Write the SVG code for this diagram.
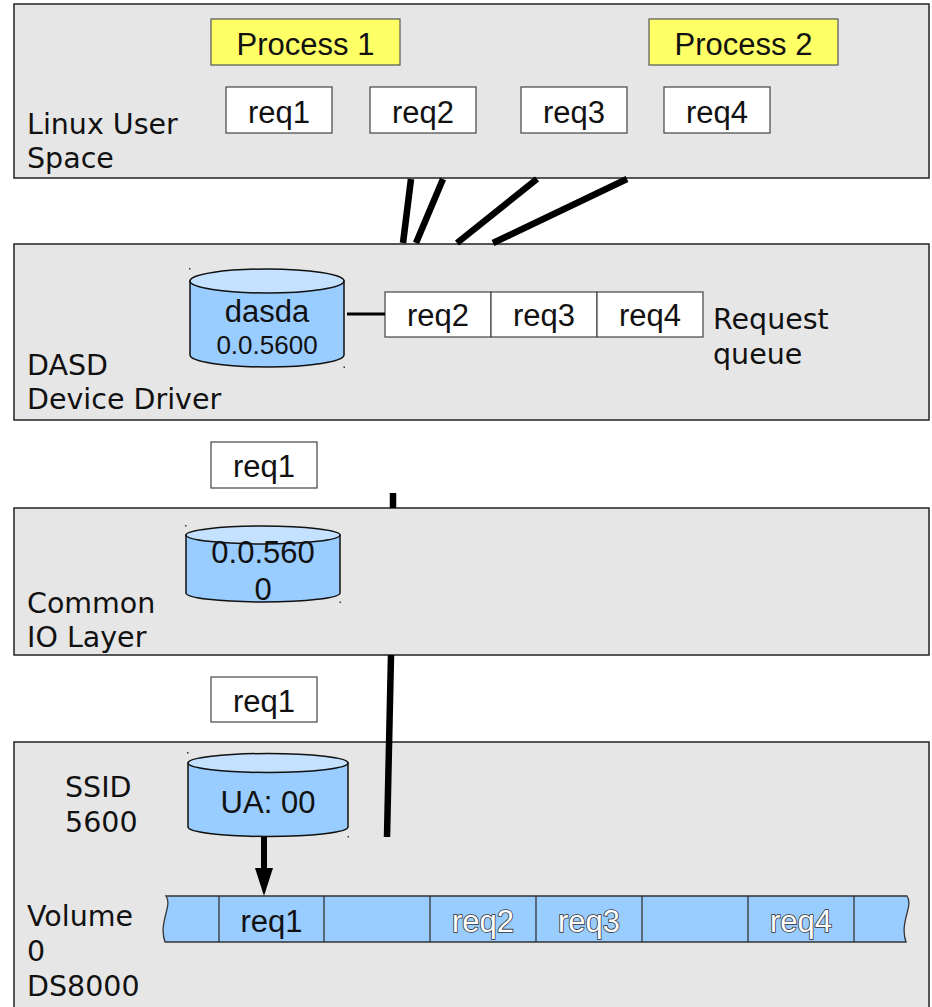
<svg xmlns="http://www.w3.org/2000/svg" width="932" height="1007" viewBox="0 0 932 1007">
<style>
.layer{fill:#e6e6e6;stroke:#222;stroke-width:1.5}
.box{fill:#fff;stroke:#444;stroke-width:1.2}
.proc{fill:#ffff66;stroke:#555;stroke-width:1.2}
.cyl{fill:#99ccff;stroke:#111;stroke-width:1.5}
.cyltop{fill:#c4e1ff;stroke:#111;stroke-width:1.5}
.lbl{font-family:"DejaVu Sans",sans-serif;font-size:28.5px;fill:#111}
.t{font-family:"Liberation Sans",Arial,sans-serif;font-size:31px;fill:#111;text-anchor:middle}
.ts{font-family:"Liberation Sans",Arial,sans-serif;font-size:26px;fill:#111;text-anchor:middle}
.ot{font-family:"Liberation Sans",Arial,sans-serif;font-size:31px;fill:#fff;stroke:#333;stroke-width:1.6;paint-order:stroke;text-anchor:middle}
.conn{stroke:#000;stroke-width:6.5;fill:none}
.dot{fill:#333}
</style>

<g id="layer-user">
<rect class="layer" x="14" y="4" width="915" height="174"/>
<text class="lbl" x="27" y="134">Linux User</text>
<text class="lbl" x="27" y="168">Space</text>
</g>
<g id="process1"><rect class="proc" x="211" y="19" width="189" height="46"/><text class="t" x="305.5" y="55">Process 1</text></g>
<g id="process2"><rect class="proc" x="649" y="19" width="189" height="46"/><text class="t" x="743.5" y="55">Process 2</text></g>
<g id="u-req1"><rect class="box" x="226" y="87" width="106" height="46"/><text class="t" x="279" y="123">req1</text></g>
<g id="u-req2"><rect class="box" x="370" y="87" width="106" height="46"/><text class="t" x="423" y="123">req2</text></g>
<g id="u-req3"><rect class="box" x="521" y="87" width="106" height="46"/><text class="t" x="574" y="123">req3</text></g>
<g id="u-req4"><rect class="box" x="664" y="87" width="106" height="46"/><text class="t" x="717" y="123">req4</text></g>

<g id="layer-dasd">
<rect class="layer" x="14" y="244" width="915" height="176"/>
<text class="lbl" x="27" y="375">DASD</text>
<text class="lbl" x="27" y="409">Device Driver</text>
</g>
<g id="cyl-dasda">
<path class="cyl" d="M190,281 L190,355 A77,12 0 0 0 344,355 L344,281 Z"/>
<ellipse class="cyltop" cx="267" cy="281" rx="77" ry="12"/>
<rect class="dot" x="189" y="268" width="1.5" height="1.5"/><rect class="dot" x="343.5" y="366.5" width="1.5" height="1.5"/>
<text class="t" x="267" y="322">dasda</text>
<text class="ts" x="267" y="354">0.0.5600</text>
</g>
<g id="queue">
<rect class="box" x="385" y="292" width="106" height="45"/><text class="t" x="438" y="326">req2</text>
<rect class="box" x="491" y="292" width="106" height="45"/><text class="t" x="544" y="326">req3</text>
<rect class="box" x="597" y="292" width="106" height="45"/><text class="t" x="650" y="326">req4</text>
</g>
<g id="queue-label">
<text class="lbl" x="713" y="329">Request</text>
<text class="lbl" x="713" y="364">queue</text>
</g>

<g id="m-req1a"><rect class="box" x="211" y="442" width="106" height="46"/><text class="t" x="264" y="477">req1</text></g>

<g id="layer-cio">
<rect class="layer" x="14" y="508" width="915" height="147"/>
<text class="lbl" x="27" y="613">Common</text>
<text class="lbl" x="27" y="647">IO Layer</text>
</g>
<g id="cyl-cio">
<path class="cyl" d="M186,535 L186,593 A77,9 0 0 0 340,593 L340,535 Z"/>
<ellipse class="cyltop" cx="263" cy="535" rx="77" ry="9"/>
<rect class="dot" x="185" y="525" width="1.5" height="1.5"/><rect class="dot" x="339.5" y="601.5" width="1.5" height="1.5"/>
<text class="t" x="263" y="563">0.0.560</text>
<text class="t" x="263" y="600">0</text>
</g>

<g id="m-req1b"><rect class="box" x="211" y="677" width="106" height="45"/><text class="t" x="264" y="712">req1</text></g>

<g id="layer-ds8000">
<rect class="layer" x="14" y="742" width="915" height="280"/>
<text class="lbl" x="65" y="797">SSID</text>
<text class="lbl" x="65" y="832">5600</text>
<text class="lbl" x="27" y="926">Volume</text>
<text class="lbl" x="27" y="961">0</text>
<text class="lbl" x="27" y="996">DS8000</text>
</g>
<g id="cyl-ua">
<path class="cyl" d="M188,763 L188,827 A80,9.5 0 0 0 348,827 L348,763 Z"/>
<ellipse class="cyltop" cx="268" cy="763" rx="80" ry="9.5"/>
<rect class="dot" x="187" y="752" width="1.5" height="1.5"/><rect class="dot" x="347.5" y="836" width="1.5" height="1.5"/>
<text class="t" x="268" y="813">UA: 00</text>
</g>
<g id="volume">
<path d="M166,896 L907,896 C914,906 899,922 906,942 L165,942 C158,922 173,906 166,896 Z" fill="#99ccff" stroke="#333" stroke-width="1.3"/>
<g stroke="#333" stroke-width="1.3">
<line x1="219" y1="896" x2="219" y2="942"/>
<line x1="324" y1="896" x2="324" y2="942"/>
<line x1="430" y1="896" x2="430" y2="942"/>
<line x1="536" y1="896" x2="536" y2="942"/>
<line x1="642" y1="896" x2="642" y2="942"/>
<line x1="748" y1="896" x2="748" y2="942"/>
<line x1="854" y1="896" x2="854" y2="942"/>
</g>
<text class="t" x="271.5" y="932">req1</text>
<text class="ot" x="483" y="932">req2</text>
<text class="ot" x="589" y="932">req3</text>
<text class="ot" x="801" y="932">req4</text>
</g>

<g id="connectors">
<line class="conn" x1="411" y1="179" x2="403" y2="243"/>
<line class="conn" x1="443" y1="179" x2="416" y2="243"/>
<line class="conn" x1="537" y1="179" x2="457" y2="243"/>
<line class="conn" x1="627" y1="179" x2="493" y2="243"/>
<line stroke="#000" stroke-width="3" x1="347" y1="314" x2="385" y2="314"/>
<line class="conn" x1="393" y1="493" x2="393" y2="508"/>
<line class="conn" x1="391" y1="655" x2="387" y2="837"/>
<line stroke="#000" stroke-width="6" x1="264" y1="837" x2="264" y2="870"/>
<polygon points="255,868 273,868 264,896" fill="#000"/>
</g>
</svg>
